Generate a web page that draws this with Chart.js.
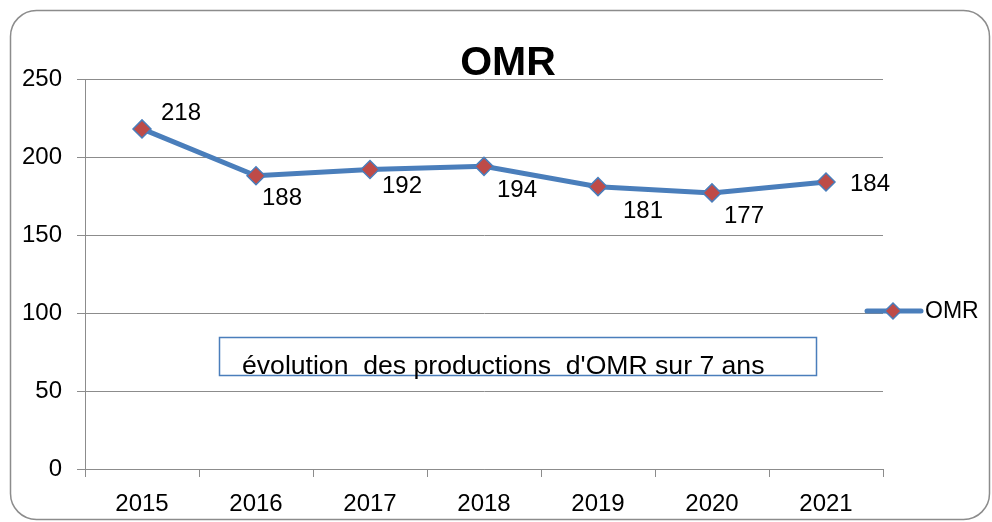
<!DOCTYPE html>
<html>
<head>
<meta charset="utf-8">
<script src="https://cdn.jsdelivr.net/npm/chart.js@4/dist/chart.umd.min.js"></script>
<style>
  html, body { margin: 0; padding: 0; background: #ffffff; }
  #wrap { position: relative; width: 992px; height: 522px; }
</style>
</head>
<body>
<div id="wrap"><canvas id="c" width="992" height="522"></canvas></div>
<script>
// ---- data ----
const categories = ['2015', '2016', '2017', '2018', '2019', '2020', '2021'];
const omrValues = [218, 188, 192, 194, 181, 177, 184];
const yTicks = [0, 50, 100, 150, 200, 250];
const seriesName = 'OMR';
const chartTitle = 'OMR';
const noteText = "évolution  des productions  d'OMR sur 7 ans";

// ---- styles ----
const FONT = '"Liberation Sans", Arial, sans-serif';
const LINE_BLUE = '#4A7EBB';
const MARK_RED = '#BE4B48';
const GRID = '#8C8C8C';

// label offsets relative to each point (pixels)
const labelOffsets = [[39, -16], [26, 23], [32, 17], [33, 24], [45, 25], [32, 23], [44, 2]];

const decorPlugin = {
  id: 'decor',
  beforeDraw(chart) {
    const ctx = chart.ctx;
    ctx.save();
    ctx.fillStyle = '#ffffff';
    ctx.fillRect(0, 0, chart.width, chart.height);
    ctx.restore();
  },
  afterDraw(chart) {
    const ctx = chart.ctx;
    ctx.save();
    // outer rounded border
    ctx.strokeStyle = '#8C8C8C';
    ctx.lineWidth = 1.5;
    ctx.beginPath();
    ctx.roundRect(10.5, 10.5, 979, 509, 26);
    ctx.stroke();

    // title
    ctx.fillStyle = '#000';
    ctx.font = 'bold 41px ' + FONT;
    ctx.textAlign = 'center';
    ctx.textBaseline = 'alphabetic';
    ctx.fillText(chartTitle, 508, 75);

    // data labels
    const meta = chart.getDatasetMeta(0);
    ctx.font = '24px ' + FONT;
    ctx.textAlign = 'center';
    ctx.textBaseline = 'middle';
    meta.data.forEach((pt, i) => {
      const off = labelOffsets[i];
      ctx.fillText(String(omrValues[i]), pt.x + off[0], pt.y + off[1]);
    });

    // legend
    const ly = 311;
    ctx.strokeStyle = LINE_BLUE;
    ctx.lineWidth = 5;
    ctx.lineCap = 'round';
    ctx.beginPath();
    ctx.moveTo(867, ly);
    ctx.lineTo(921, ly);
    ctx.stroke();
    ctx.beginPath();
    const r = 8, cx = 893;
    ctx.moveTo(cx, ly - r); ctx.lineTo(cx + r, ly); ctx.lineTo(cx, ly + r); ctx.lineTo(cx - r, ly); ctx.closePath();
    ctx.fillStyle = MARK_RED;
    ctx.fill();
    ctx.lineWidth = 1.5;
    ctx.strokeStyle = LINE_BLUE;
    ctx.stroke();
    ctx.fillStyle = '#000';
    ctx.font = '23px ' + FONT;
    ctx.textAlign = 'left';
    ctx.textBaseline = 'middle';
    ctx.fillText(seriesName, 925, ly + 1);

    // note text box
    ctx.strokeStyle = LINE_BLUE;
    ctx.lineWidth = 1.5;
    ctx.strokeRect(219.5, 337.5, 597, 38);
    ctx.fillStyle = '#000';
    ctx.font = '26.6px ' + FONT;
    ctx.textAlign = 'left';
    ctx.textBaseline = 'alphabetic';
    ctx.fillText(noteText, 242, 374);
    ctx.restore();
  }
};

new Chart(document.getElementById('c'), {
  type: 'line',
  data: {
    labels: categories,
    datasets: [{
      label: seriesName,
      data: omrValues,
      borderColor: LINE_BLUE,
      borderWidth: 5,
      backgroundColor: MARK_RED,
      pointStyle: 'rectRot',
      pointRadius: 9,
      pointHoverRadius: 9,
      pointBackgroundColor: MARK_RED,
      pointBorderColor: LINE_BLUE,
      pointBorderWidth: 1.5,
      tension: 0,
      fill: false
    }]
  },
  options: {
    responsive: false,
    animation: false,
    events: [],
    layout: { padding: { top: 79, right: 109, left: 0, bottom: 0 } },
    plugins: {
      legend: { display: false },
      title: { display: false },
      tooltip: { enabled: false }
    },
    scales: {
      x: {
        type: 'category',
        offset: true,
        grid: {
          offset: true,
          drawOnChartArea: false,
          drawTicks: true,
          tickLength: 8,
          color: GRID,
          lineWidth: 1
        },
        border: { color: GRID, width: 1 },
        ticks: {
          color: '#000',
          font: { family: FONT, size: 24 },
          padding: 13,
          maxRotation: 0,
          autoSkip: false
        },
        afterFit(scale) { scale.height = 53; }
      },
      y: {
        min: 0,
        max: 250,
        afterBuildTicks(scale) { scale.ticks = yTicks.map(v => ({ value: v })); },
        grid: {
          drawTicks: true,
          tickLength: 8,
          color: GRID,
          lineWidth: 1
        },
        border: { color: GRID, width: 1 },
        ticks: {
          color: '#000',
          font: { family: FONT, size: 24 },
          padding: 15
        },
        afterFit(scale) { scale.width = 85; }
      }
    }
  },
  plugins: [decorPlugin]
});
</script>
</body>
</html>
